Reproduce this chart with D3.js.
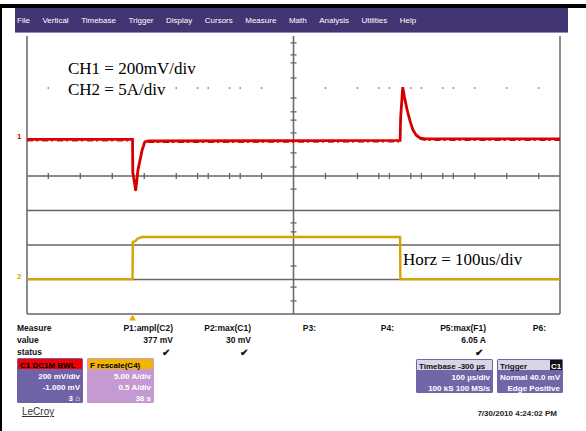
<!DOCTYPE html>
<html><head><meta charset="utf-8">
<script src="https://cdn.jsdelivr.net/npm/d3@7"></script>
<style>html,body{margin:0;padding:0;background:#fff;}svg{display:block;}</style>
</head><body>
<script>
// ---- data ----
const menuItems = ["File","Vertical","Timebase","Trigger","Display","Cursors","Measure","Math","Analysis","Utilities","Help"];
// CH1 trace: time (us, relative to screen centre) and voltage (mV)
const ch1Time = [-500,-302,-301.5,-296,-292,-284,-279,-272,200,201,205,209,213,219,224,230,237,247,500];
const ch1mV   = [0,0,-190,-297,-180,-61,-15,-9,-6,128,303,232,174,103,56,26,9,3,3];
// CH2 trace: time (us) and current (A)
const ch2Time = [-500,-302,-301.5,-297,-292,-284,200,200.5,500];
const ch2A    = [0,0,5.4,5.5,5.9,6.1,6.1,0,0];
// minor tick times (us from left edge of screen) as rendered
const hTicks = [40,100,160,220,280,320,340,380,400,440,560,620,660,680,720,740,780,800,840,900,960];
// minor tick positions on the vertical centre line (divisions from bottom)
const vTicks = [7.86,7.51,7.28,6.84,6.26,5.86,5.62,5.25,4.67,4.26,3.62,2.64,2.38,1.39,0.78,0.38];
const gridLines = [1,2,3];
const axisDiv = 4;
const dotRowDiv = 6.55;
const ch1ZeroDiv = 5.06, ch1PerDiv = 200;
const ch2ZeroDiv = 1.01, ch2PerDiv = 5;
const annotations = ["CH1 = 200mV/div","CH2 = 5A/div","Horz = 100us/div"];
const measureRows = ["Measure","value","status"];
const measureCols = [
  {name:"P1:ampl(C2)", value:"377 mV", ok:true},
  {name:"P2:max(C1)", value:"30 mV", ok:true},
  {name:"P3:", value:"", ok:false},
  {name:"P4:", value:"", ok:false},
  {name:"P5:max(F1)", value:"6.05 A", ok:true},
  {name:"P6:", value:"", ok:false}
];
const c1Box = ["C1  DC1M  BWL", "200 mV/div", "-1.000 mV", "3 \u2302"];
const f1Box = ["F   rescale(C4)", "5.00 A/div", "0.5 A/div", "38 s"];
const tbBox = ["Timebase  -300 \u00b5s", "100 \u00b5s/div", "100 kS    100 MS/s"];
const trBox = ["Trigger", "Normal   40.0 mV", "Edge      Positive"];
const dateText = "7/30/2010 4:24:02 PM";

// ---- drawing ----
const W = 586, H = 431;
const svg = d3.select("body").append("svg").attr("width", W).attr("height", H);

// outer frame
svg.append("rect").attr("x",0).attr("y",4).attr("width",W).attr("height",4).attr("fill","#000");
svg.append("rect").attr("x",0).attr("y",4).attr("width",2).attr("height",H-4).attr("fill","#000");

// menu bar
svg.append("rect").attr("x",15).attr("y",8).attr("width",553).attr("height",25).attr("fill","#433572");
svg.append("rect").attr("x",15).attr("y",32).attr("width",553).attr("height",1).attr("fill","#9488c0");
let mx = 17;
const menuG = svg.append("g");
menuItems.forEach(m => {
  const t = menuG.append("text").attr("x",mx).attr("y",23).attr("fill","#fff")
    .attr("font-family","Liberation Sans, Arial, sans-serif").attr("font-size",8).text(m);
  mx += t.node().getComputedTextLength() + 12.5;
});

// scales
const x = d3.scaleLinear().domain([-500,500]).range([27,560]);
const xs = d3.scaleLinear().domain([0,1000]).range([27,560]);
const gy = d3.scaleLinear().domain([0,8]).range([314,38]);
const y1 = v => gy(ch1ZeroDiv + v/ch1PerDiv);
const y2 = v => gy(ch2ZeroDiv + v/ch2PerDiv);

const gridC = "#666";
const grid = svg.append("g");
// borders
grid.append("line").attr("x1",27).attr("x2",27).attr("y1",36).attr("y2",gy(0)).attr("stroke",gridC).attr("stroke-width",1.5);
grid.append("line").attr("x1",560).attr("x2",560).attr("y1",36).attr("y2",gy(0)).attr("stroke",gridC).attr("stroke-width",1.5);
grid.append("line").attr("x1",x(0)).attr("x2",x(0)).attr("y1",36).attr("y2",gy(0)).attr("stroke",gridC).attr("stroke-width",1.5);
grid.append("line").attr("x1",27).attr("x2",560).attr("y1",gy(0)).attr("y2",gy(0)).attr("stroke",gridC).attr("stroke-width",1.5);
gridLines.forEach(d => grid.append("line").attr("x1",27).attr("x2",560).attr("y1",gy(d)).attr("y2",gy(d)).attr("stroke",gridC).attr("stroke-width",1.3));
// axis row with ticks
grid.append("line").attr("x1",27).attr("x2",560).attr("y1",gy(axisDiv)).attr("y2",gy(axisDiv)).attr("stroke",gridC).attr("stroke-width",1.5);
grid.selectAll(".ht").data(hTicks).enter().append("line")
  .attr("x1",d=>xs(d)).attr("x2",d=>xs(d)).attr("y1",gy(axisDiv)-3).attr("y2",gy(axisDiv)+3).attr("stroke",gridC).attr("stroke-width",1.3);
grid.selectAll(".vt").data(vTicks).enter().append("line")
  .attr("x1",x(0)-3).attr("x2",x(0)+3).attr("y1",d=>gy(d)).attr("y2",d=>gy(d)).attr("stroke",gridC).attr("stroke-width",1.3);
// dotted row
grid.selectAll(".dt").data(hTicks).enter().append("rect")
  .attr("x",d=>xs(d)-0.75).attr("y",gy(dotRowDiv)-0.75).attr("width",1.5).attr("height",1.5).attr("fill","#777");

// annotations (with white backing)
const serif = "Liberation Serif, Times New Roman, serif";
const ann = svg.append("g");
ann.append("rect").attr("x",66).attr("y",57).attr("width",104).attr("height",42).attr("fill","#fff");
ann.append("rect").attr("x",66).attr("y",57).attr("width",143).attr("height",20).attr("fill","#fff");
ann.append("text").attr("x",68).attr("y",74).attr("font-family",serif).attr("font-size",17).attr("fill","#000").text(annotations[0]);
ann.append("text").attr("x",68).attr("y",95).attr("font-family",serif).attr("font-size",17).attr("fill","#000").text(annotations[1]);

// traces
const line1 = d3.line().x(d=>x(d[0])).y(d=>y1(d[1]));
const line2 = d3.line().x(d=>x(d[0])).y(d=>y2(d[1]));
const ch1 = ch1Time.map((t,i)=>[t,ch1mV[i]]);
const ch2 = ch2Time.map((t,i)=>[t,ch2A[i]]);

svg.append("path").attr("d",line2(ch2)).attr("fill","none").attr("stroke","#d4a300").attr("stroke-width",2.4);
svg.append("path").attr("d",line1(ch1)).attr("fill","none").attr("stroke","#e00000").attr("stroke-width",2.8);
// darker noise shadow under the red baseline
svg.append("path").attr("d",line1(ch1)).attr("fill","none").attr("stroke","#b00000").attr("stroke-width",1)
  .attr("transform","translate(0,1.5)").attr("stroke-dasharray","6,3,2,4");

svg.append("text").attr("x",403).attr("y",265).attr("font-family",serif).attr("font-size",17).attr("fill","#000").text(annotations[2]);

// channel ground markers
svg.append("text").attr("x",17).attr("y",y1(0)).attr("font-family","Liberation Sans, sans-serif").attr("font-size",8).attr("font-weight","bold").attr("fill","#e00000").text("1");
svg.append("text").attr("x",17).attr("y",y2(0)).attr("font-family","Liberation Sans, sans-serif").attr("font-size",8).attr("font-weight","bold").attr("fill","#d4a300").text("2");

// trigger marker
svg.append("path").attr("d",d3.symbol().type(d3.symbolTriangle).size(20)()).attr("transform",`translate(${x(-302)},318.5)`).attr("fill","#f0a800");

// measure table
const sans = "Liberation Sans, Arial, sans-serif";
const mt = svg.append("g").attr("font-family",sans).attr("font-size",8.5).attr("font-weight","bold").attr("fill","#111");
measureRows.forEach((r,i)=> mt.append("text").attr("x",17).attr("y",331+i*12).text(r));
const colRight = [173,251,316,394,486,546];
measureCols.forEach((c,i)=>{
  mt.append("text").attr("x",colRight[i]).attr("y",331).attr("text-anchor","end").text(c.name);
  if (c.value) mt.append("text").attr("x",colRight[i]).attr("y",343).attr("text-anchor","end").text(c.value);
  if (c.ok) mt.append("text").attr("x",colRight[i]-3).attr("y",356).attr("text-anchor","end").attr("font-size",10).text("\u2714");
});

// descriptor boxes
function box(x0,y0,w,h,bg,hdrBg,hdrFg,lines,rowFg){
  const g = svg.append("g").attr("font-family",sans).attr("font-size",8).attr("font-weight","bold");
  g.append("rect").attr("x",x0).attr("y",y0).attr("width",w).attr("height",h).attr("fill",bg).attr("rx",1.5);
  g.append("rect").attr("x",x0+1).attr("y",y0+1).attr("width",w-2).attr("height",10).attr("fill",hdrBg);
  g.append("text").attr("x",x0+3).attr("y",y0+9.5).attr("fill",hdrFg).text(lines[0]);
  lines.slice(1).forEach((l,i)=> g.append("text").attr("x",x0+w-3).attr("y",y0+21+i*11).attr("text-anchor","end").attr("fill",rowFg).text(l));
  return g;
}
box(17,358,66,45,"#6f62a6","#f00000","#000",c1Box,"#fff");
box(87,358,67,45,"#c59ad2","#f2b400","#000",f1Box,"#fff");
const tb = box(416,359,77,34,"#7266a8","#d8d6e6","#111",tbBox,"#fff");
const tr = box(497,359,66,34,"#7266a8","#d8d6e6","#111",trBox,"#fff");
tr.append("rect").attr("x",550).attr("y",360).attr("width",12).attr("height",10).attr("fill","#111");
tr.append("text").attr("x",556).attr("y",368.5).attr("text-anchor","middle").attr("fill","#fff").text("C1");

// footer
svg.append("text").attr("x",22).attr("y",415).attr("font-family",sans).attr("font-size",10).attr("fill","#333")
  .attr("text-decoration","underline").text("LeCroy");
svg.append("text").attr("x",557).attr("y",416).attr("text-anchor","end").attr("font-family",sans).attr("font-size",8).attr("font-weight","bold").attr("fill","#222").text(dateText);
</script>
</body></html>
